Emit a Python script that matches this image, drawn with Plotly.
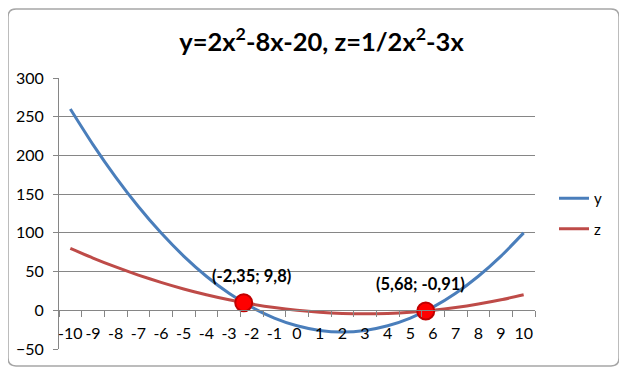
import plotly.graph_objects as go

categories = [-10, -9, -8, -7, -6, -5, -4, -3, -2, -1, 0, 1, 2, 3, 4, 5, 6, 7, 8, 9, 10]
y_values = [260, 214, 172, 134, 100, 70, 44, 22, 4, -10, -20, -26, -28, -26, -20, -10, 4, 22, 44, 70, 100]
z_values = [80, 67.5, 56, 45.5, 36, 27.5, 20, 13.5, 8, 3.5, 0, -2.5, -4, -4.5, -4, -2.5, 0, 3.5, 8, 13.5, 20]
cross_x = [-2.35, 5.68]
cross_y = [9.8, -0.91]
cross_labels = ["(-2,35; 9,8)", "(5,68; -0,91)"]
y_ticks = [-50, 0, 50, 100, 150, 200, 250, 300]

FONT = "Lato"
OFF = 8  # page body margin of the exported html
W, H = 627 - OFF, 375 - OFF
L, R, T, B = 59 - OFF, 627 - 535, 78 - OFF, 375 - 349
pw, ph = W - L - R, H - T - B
label_xshift = [8, -5]  # pixel placement of the point labels

fig = go.Figure()
fig.add_trace(go.Scatter(x=categories, y=y_values, mode="lines", name="y", legendgroup="y",
                         line=dict(color="#4A7EBB", width=3, shape="spline", smoothing=0.6)))
fig.add_trace(go.Scatter(x=categories, y=z_values, mode="lines", name="z", legendgroup="z",
                         line=dict(color="#BE4B48", width=3, shape="spline", smoothing=0.6)))
fig.add_trace(go.Scatter(x=cross_x, y=cross_y, mode="markers", showlegend=False,
                         marker=dict(size=17, color="#FF0000", line=dict(color="#C00000", width=2))))

for cx, cy, lab, xs in zip(cross_x, cross_y, cross_labels, label_xshift):
    fig.add_annotation(x=cx, y=cy, text=lab, showarrow=False, yshift=27, xshift=xs,
                       font=dict(family=FONT, size=16.5, color="black", weight="bold"))

boundaries = [c - 0.5 for c in categories] + [categories[-1] + 0.5]
ymin, ymax = y_ticks[0], y_ticks[-1]

fig.update_layout(
    width=W, height=H,
    margin=dict(l=L, r=R, t=T, b=B),
    paper_bgcolor="white", plot_bgcolor="white",
    font=dict(family=FONT, size=16, color="black"),
    title=dict(text="y=2x<sup>2</sup>-8x-20, z=1/2x<sup>2</sup>-3x", x=0.5 + OFF / 2 / W,
               xref="container", y=1 - (42 - OFF) / H, yanchor="middle", xanchor="center",
               font=dict(family=FONT, size=25.5, color="black", weight="bold")),
    xaxis=dict(range=[boundaries[0], boundaries[-1]], tickmode="array", tickvals=categories,
               ticktext=[str(c) for c in categories], showgrid=False, zeroline=False,
               showline=True, linecolor="#868686", linewidth=1, automargin=False,
               anchor="free", position=(0 - ymin) / (ymax - ymin), ticks="",
               ticklabelstandoff=9,
               minor=dict(tickmode="array", tickvals=boundaries, ticks="outside", ticklen=6,
                          tickcolor="#868686", showgrid=False),
               tickfont=dict(family=FONT, size=16)),
    yaxis=dict(range=[ymin, ymax], tickmode="array", tickvals=y_ticks, showgrid=True,
               gridcolor="#868686", gridwidth=1, zeroline=False, showline=True, automargin=False,
               linecolor="#868686", ticks="outside", ticklen=5, tickcolor="#868686",
               ticklabelstandoff=6, tickfont=dict(family=FONT, size=16)),
    legend=dict(x=(554 - OFF - L) / pw, y=(T + ph - (182 - OFF)) / ph, xanchor="left",
                yanchor="top", font=dict(family=FONT, size=15), bgcolor="rgba(0,0,0,0)",
                tracegroupgap=8),
)

# chart frame (rounded rectangle)
x0, x1 = (8 - OFF - L) / pw, (619 - OFF - L) / pw
y0, y1 = (T + ph - (366 - OFF)) / ph, (T + ph - (9 - OFF)) / ph
rx, ry = 8 / pw, 8 / ph
path = (f"M {x0+rx},{y1} L {x1-rx},{y1} Q {x1},{y1} {x1},{y1-ry} L {x1},{y0+ry} "
        f"Q {x1},{y0} {x1-rx},{y0} L {x0+rx},{y0} Q {x0},{y0} {x0},{y0+ry} "
        f"L {x0},{y1-ry} Q {x0},{y1} {x0+rx},{y1} Z")
fig.add_shape(type="path", path=path, xref="paper", yref="paper",
              line=dict(color="#A6A6A6", width=1.5), layer="below")

fig.write_html("out.html")
